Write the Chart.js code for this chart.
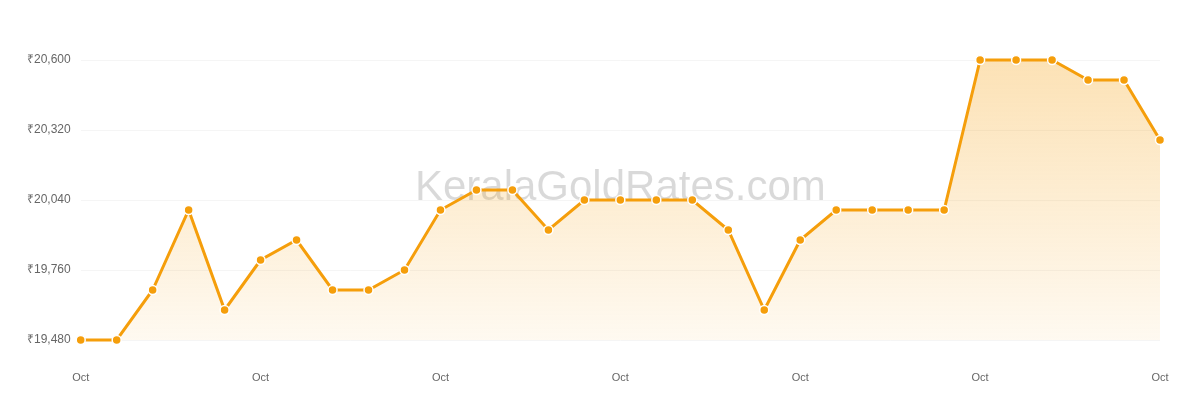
<!DOCTYPE html>
<html>
<head>
<meta charset="utf-8">
<script src="https://cdn.jsdelivr.net/npm/chart.js@4.4.1/dist/chart.umd.min.js"></script>
<style>
  html, body { margin: 0; padding: 0; background: #fff; }
  #wrap { width: 1200px; height: 400px; position: relative; }
</style>
</head>
<body>
<div id="wrap"><canvas id="goldChart"></canvas></div>
<script>
// dias de outubro (só o mês aparece no eixo)
const dias = [
  "Oct 1", "Oct 2", "Oct 3", "Oct 4", "Oct 5", "Oct 6", "Oct 7", "Oct 8",
  "Oct 9", "Oct 10", "Oct 11", "Oct 12", "Oct 13", "Oct 14", "Oct 15", "Oct 16",
  "Oct 17", "Oct 18", "Oct 19", "Oct 20", "Oct 21", "Oct 22", "Oct 23", "Oct 24",
  "Oct 25", "Oct 26", "Oct 27", "Oct 28", "Oct 29", "Oct 30", "Oct 31"
];

// preço (₹) por dia
const precos = [
  19480, 19480, 19680, 20000, 19600, 19800, 19880, 19680,
  19680, 19760, 20000, 20080, 20080, 19920, 20040, 20040,
  20040, 20040, 19920, 19600, 19880, 20000, 20000, 20000,
  20000, 20600, 20600, 20600, 20520, 20520, 20280
];

// marcas do eixo y
const ticksY = [19480, 19760, 20040, 20320, 20600];

const laranja = "#f59e0b";

// marca d'água
const marcaDagua = {
  id: "marcaDagua",
  beforeDatasetsDraw(chart) {
    const { ctx, chartArea } = chart;
    ctx.save();
    ctx.font = "42px 'Liberation Sans', Arial, sans-serif";
    ctx.fillStyle = "rgba(0, 0, 0, 0.15)";
    ctx.textAlign = "center";
    ctx.textBaseline = "middle";
    ctx.fillText("KeralaGoldRates.com", (chartArea.left + chartArea.right) / 2, 188);
    ctx.restore();
  }
};

const ctx = document.getElementById("goldChart").getContext("2d");

new Chart(ctx, {
  type: "line",
  data: {
    labels: dias,
    datasets: [{
      data: precos,
      clip: 8,
      borderColor: laranja,
      borderWidth: 3,
      pointRadius: 4.5,
      pointHoverRadius: 5,
      pointBackgroundColor: laranja,
      pointBorderColor: "#fff",
      pointBorderWidth: 1.5,
      tension: 0,
      fill: "start",
      backgroundColor: (c) => {
        const area = c.chart.chartArea;
        if (!area) return "rgba(245, 158, 11, 0.2)";
        const g = c.chart.ctx.createLinearGradient(0, area.top, 0, area.bottom);
        g.addColorStop(0, "rgba(245, 158, 11, 0.30)");
        g.addColorStop(1, "rgba(245, 158, 11, 0.06)");
        return g;
      }
    }]
  },
  options: {
    responsive: true,
    maintainAspectRatio: false,
    animation: false,
    layout: { padding: { top: 60, right: 40, bottom: 0, left: 17 } },
    plugins: {
      legend: { display: false },
      tooltip: { enabled: false }
    },
    scales: {
      x: {
        grid: { display: false, drawTicks: false },
        border: { display: false },
        afterFit: (axis) => { axis.height = 60; },
        ticks: {
          autoSkip: false,
          maxRotation: 0,
          padding: 31,
          color: "#666",
          font: { family: "'Liberation Sans', Arial, sans-serif", size: 11 },
          callback: (v, i) => (i % 5 === 0 ? dias[i].split(" ")[0] : null)
        }
      },
      y: {
        min: ticksY[0],
        max: ticksY[ticksY.length - 1],
        afterBuildTicks: (axis) => { axis.ticks = ticksY.map(v => ({ value: v })); },
        grid: { color: "#f5f5f5", drawTicks: false, lineWidth: 1 },
        border: { display: false },
        ticks: {
          padding: 10,
          color: "#666",
          font: { family: "'Liberation Sans', Arial, sans-serif", size: 12 },
          callback: (v) => "₹" + Number(v).toLocaleString("en-US")
        }
      }
    }
  },
  plugins: [marcaDagua]
});
</script>
</body>
</html>
